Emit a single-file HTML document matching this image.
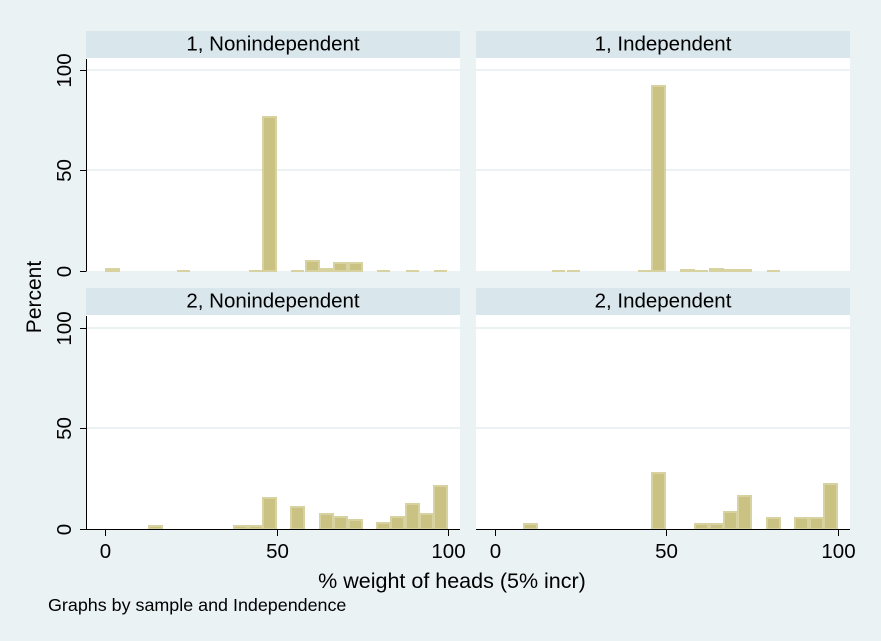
<!DOCTYPE html>
<html lang="en">
<head>
<meta charset="utf-8">
<title>Histograms by sample and Independence</title>
<style>
html,body{margin:0;padding:0;background:#eaf2f3;}
svg{display:block;font-family:"Liberation Sans",Arial,sans-serif;fill:#000;}
</style>
</head>
<body>
<svg id="chart" xmlns="http://www.w3.org/2000/svg" width="881" height="641" viewBox="0 0 881 641">
  <rect x="0" y="0" width="881" height="641" fill="#eaf2f3"/>
  <text transform="translate(41,297) rotate(-90)" text-anchor="middle" font-size="21">Percent</text>
  <text x="452" y="588" text-anchor="middle" font-size="21.5">% weight of heads (5% incr)</text>
  <text x="48" y="611" font-size="17.9">Graphs by sample and Independence</text>
</svg>
<script>
const panelTitles = ["1, Nonindependent", "1, Independent", "2, Nonindependent", "2, Independent"];
const binCount = 24;
const xMax = 100;
const xTicks = [0, 50, 100];
const yTicks = [0, 50, 100];
const seriesNonindependent1 = [1.5,0,0,0,0,0.6,0,0,0,0,0.6,77,0,0.6,5.5,1.5,4.6,4.6,0,0.6,0,0.6,0,0.6];
const seriesIndependent1 = [0,0,0,0,0.6,0.6,0,0,0,0,0.6,92.5,0,1.2,0.6,1.5,1.2,1.2,0,0.6,0,0,0,0];
const seriesNonindependent2 = [0,0,0,2,0,0,0,0,0,2,2,16,0,11.6,0,8.1,6.6,5.1,0,3.6,6.6,13.1,8.1,22];
const seriesIndependent2 = [0,0,3.1,0,0,0,0,0,0,0,0,28.5,0,0,3.1,3.1,9.1,17,0,6.1,0,6.1,6.1,23];
const panelSeries = [seriesNonindependent1, seriesIndependent1, seriesNonindependent2, seriesIndependent2];

const NS = "http://www.w3.org/2000/svg";
const svg = document.getElementById("chart");
const colLeft = [86, 476];
const colZero = [105.3, 494.9];
const pxPerX = 3.428;
const rowStripTop = [31, 288];
const rowBase = [271, 529];
const pxPerY = 2.015;
const panelWidth = 374;
const stripHeight = 27;

function xScale(col, v) { return colZero[col] + v * pxPerX; }
function yScale(row, v) { return rowBase[row] - v * pxPerY; }
function make(tag, attrs, parent) {
  const el = document.createElementNS(NS, tag);
  for (const k in attrs) el.setAttribute(k, attrs[k]);
  parent.appendChild(el);
  return el;
}

panelTitles.forEach(function (title, p) {
  const col = p % 2;
  const row = Math.floor(p / 2);
  const left = colLeft[col];
  const base = rowBase[row];
  const stripTop = rowStripTop[row];
  const plotTop = stripTop + stripHeight;

  const group = make("g", {}, svg);
  
  

  const strip = make("rect", { x: left, y: stripTop, width: panelWidth, height: stripHeight, fill: "#d9e6eb" }, group);
  
  

  const stripLabel = make("text", { x: left + panelWidth / 2, y: stripTop + 19.5, "text-anchor": "middle", "font-size": 20.5 }, group);
  
  
  stripLabel.textContent = title;

  const plot = make("rect", { x: left, y: plotTop, width: panelWidth, height: base - plotTop, fill: "#ffffff" }, group);
  
  

  yTicks.forEach(function (t) {
    if (t === 0) return;
    const gy = Math.round(yScale(row, t));
    const grid = make("rect", { x: left, y: gy - 1, width: panelWidth, height: 2, fill: "#eaf2f3" }, group);
    
    
  });

  panelSeries[p].forEach(function (v, i) {
    if (v <= 0) return;
    const binW = xMax / binCount;
    const x0 = Math.round(xScale(col, i * binW) + 0.4);
    const x1 = Math.round(xScale(col, (i + 1) * binW) - 0.9);
    const outerTop = Math.round(yScale(row, v));
    let bar;
    if (base - outerTop <= 1.5) {
      bar = make("rect", {
        x: x0, y: outerTop, width: x1 - x0, height: base + 1 - outerTop,
        fill: "#d7d29f", "shape-rendering": "crispEdges"
      }, group);
    } else {
      bar = make("rect", {
        x: x0, y: outerTop + 1, width: x1 - x0, height: Math.max(0, base - outerTop - 1),
        fill: "#c9c283", stroke: "#d7d29f", "stroke-width": 2, "shape-rendering": "crispEdges"
      }, group);
    }
    
    
  });

  if (col === 0) {
    const yAxis = make("line", { x1: left + 0.5, x2: left + 0.5, y1: plotTop + 1, y2: base + 0.5, stroke: "#000", "stroke-width": 1 }, group);
    
    
    yTicks.forEach(function (t) {
      const ty = Math.round(yScale(row, t)) + 0.5;
      const tick = make("line", { x1: left - 6, x2: left, y1: ty, y2: ty, stroke: "#000", "stroke-width": 1 }, group);
      
      
      const label = make("text", { transform: "translate(" + (left - 15) + "," + ty + ") rotate(-90)", "text-anchor": "middle", "font-size": 20.5 }, group);
      
      
      label.textContent = t;
    });
  }

  if (row === 1) {
    const xAxis = make("line", { x1: left, x2: left + panelWidth, y1: base + 0.5, y2: base + 0.5, stroke: "#000", "stroke-width": 1 }, group);
    
    
    xTicks.forEach(function (t) {
      const tx = Math.round(xScale(col, t)) + 0.5;
      const tick = make("line", { x1: tx, x2: tx, y1: base, y2: base + 7, stroke: "#000", "stroke-width": 1 }, group);
      
      
      const label = make("text", { x: tx, y: base + 29, "text-anchor": "middle", "font-size": 20.5 }, group);
      
      
      label.textContent = t;
    });
  }
});
</script>
</body>
</html>
